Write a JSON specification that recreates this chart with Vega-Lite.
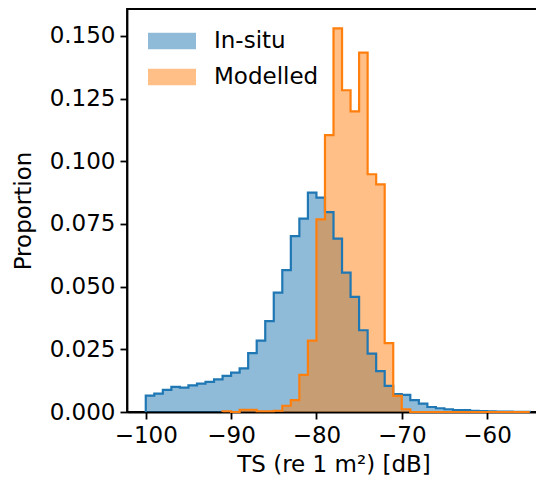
{
  "$schema": "https://vega.github.io/schema/vega-lite/v6.json",
  "autosize": {"type": "none"},
  "padding": {"left": 127, "top": 9, "right": 0, "bottom": 78},
  "width": 413,
  "height": 403,
  "config": {
    "font": "DejaVu Sans",
    "view": {"stroke": "black", "strokeWidth": 1.8},
    "axis": {
      "domainColor": "black", "domainWidth": 1.8, "tickColor": "black", "tickWidth": 1.8, "tickSize": 7,
      "labelColor": "black", "labelFontSize": 23, "labelPadding": 5, "titleColor": "black",
      "titleFontSize": 23, "titleFontWeight": "normal", "grid": false, "zindex": 1
    }
  },
  "data": {"values": [
    {"series": "In-situ", "kind": "start", "ts": -100, "p": 0},
    {"series": "In-situ", "kind": "bin", "ts": -100, "p": 0.0065},
    {"series": "In-situ", "kind": "bin", "ts": -99, "p": 0.0073},
    {"series": "In-situ", "kind": "bin", "ts": -98, "p": 0.0088},
    {"series": "In-situ", "kind": "bin", "ts": -97, "p": 0.0100},
    {"series": "In-situ", "kind": "bin", "ts": -96, "p": 0.0097},
    {"series": "In-situ", "kind": "bin", "ts": -95, "p": 0.0106},
    {"series": "In-situ", "kind": "bin", "ts": -94, "p": 0.0113},
    {"series": "In-situ", "kind": "bin", "ts": -93, "p": 0.0120},
    {"series": "In-situ", "kind": "bin", "ts": -92, "p": 0.0130},
    {"series": "In-situ", "kind": "bin", "ts": -91, "p": 0.0144},
    {"series": "In-situ", "kind": "bin", "ts": -90, "p": 0.0157},
    {"series": "In-situ", "kind": "bin", "ts": -89, "p": 0.0174},
    {"series": "In-situ", "kind": "bin", "ts": -88, "p": 0.0235},
    {"series": "In-situ", "kind": "bin", "ts": -87, "p": 0.0285},
    {"series": "In-situ", "kind": "bin", "ts": -86, "p": 0.0362},
    {"series": "In-situ", "kind": "bin", "ts": -85, "p": 0.0476},
    {"series": "In-situ", "kind": "bin", "ts": -84, "p": 0.0566},
    {"series": "In-situ", "kind": "bin", "ts": -83, "p": 0.0701},
    {"series": "In-situ", "kind": "bin", "ts": -82, "p": 0.0771},
    {"series": "In-situ", "kind": "bin", "ts": -81, "p": 0.0875},
    {"series": "In-situ", "kind": "bin", "ts": -80, "p": 0.0855},
    {"series": "In-situ", "kind": "bin", "ts": -79, "p": 0.0797},
    {"series": "In-situ", "kind": "bin", "ts": -78, "p": 0.0691},
    {"series": "In-situ", "kind": "bin", "ts": -77, "p": 0.0556},
    {"series": "In-situ", "kind": "bin", "ts": -76, "p": 0.0459},
    {"series": "In-situ", "kind": "bin", "ts": -75, "p": 0.0326},
    {"series": "In-situ", "kind": "bin", "ts": -74, "p": 0.0233},
    {"series": "In-situ", "kind": "bin", "ts": -73, "p": 0.0163},
    {"series": "In-situ", "kind": "bin", "ts": -72, "p": 0.0104},
    {"series": "In-situ", "kind": "bin", "ts": -71, "p": 0.0071},
    {"series": "In-situ", "kind": "bin", "ts": -70, "p": 0.0068},
    {"series": "In-situ", "kind": "bin", "ts": -69, "p": 0.0047},
    {"series": "In-situ", "kind": "bin", "ts": -68, "p": 0.0033},
    {"series": "In-situ", "kind": "bin", "ts": -67, "p": 0.0020},
    {"series": "In-situ", "kind": "bin", "ts": -66, "p": 0.0015},
    {"series": "In-situ", "kind": "bin", "ts": -65, "p": 0.0011},
    {"series": "In-situ", "kind": "bin", "ts": -64, "p": 0.0008},
    {"series": "In-situ", "kind": "bin", "ts": -63, "p": 0.0008},
    {"series": "In-situ", "kind": "bin", "ts": -62, "p": 0.0005},
    {"series": "In-situ", "kind": "bin", "ts": -61, "p": 0.0004},
    {"series": "In-situ", "kind": "bin", "ts": -60, "p": 0.0003},
    {"series": "In-situ", "kind": "bin", "ts": -59, "p": 0.0002},
    {"series": "In-situ", "kind": "bin", "ts": -58, "p": 0.0002},
    {"series": "In-situ", "kind": "bin", "ts": -57, "p": 0.0001},
    {"series": "In-situ", "kind": "bin", "ts": -56, "p": 0.0001},
    {"series": "In-situ", "kind": "end", "ts": -55, "p": 0},
    {"series": "Modelled", "kind": "start", "ts": -91, "p": 0},
    {"series": "Modelled", "kind": "bin", "ts": -91, "p": 0.0003},
    {"series": "Modelled", "kind": "bin", "ts": -90, "p": 0},
    {"series": "Modelled", "kind": "bin", "ts": -89, "p": 0.0009},
    {"series": "Modelled", "kind": "bin", "ts": -88, "p": 0.0009},
    {"series": "Modelled", "kind": "bin", "ts": -87, "p": 0.0003},
    {"series": "Modelled", "kind": "bin", "ts": -86, "p": 0.0003},
    {"series": "Modelled", "kind": "bin", "ts": -85, "p": 0.0005},
    {"series": "Modelled", "kind": "bin", "ts": -84, "p": 0.0025},
    {"series": "Modelled", "kind": "bin", "ts": -83, "p": 0.0047},
    {"series": "Modelled", "kind": "bin", "ts": -82, "p": 0.0148},
    {"series": "Modelled", "kind": "bin", "ts": -81, "p": 0.0285},
    {"series": "Modelled", "kind": "bin", "ts": -80, "p": 0.0768},
    {"series": "Modelled", "kind": "bin", "ts": -79, "p": 0.1104},
    {"series": "Modelled", "kind": "bin", "ts": -78, "p": 0.1530},
    {"series": "Modelled", "kind": "bin", "ts": -77, "p": 0.1283},
    {"series": "Modelled", "kind": "bin", "ts": -76, "p": 0.1199},
    {"series": "Modelled", "kind": "bin", "ts": -75, "p": 0.1433},
    {"series": "Modelled", "kind": "bin", "ts": -74, "p": 0.0948},
    {"series": "Modelled", "kind": "bin", "ts": -73, "p": 0.0908},
    {"series": "Modelled", "kind": "bin", "ts": -72, "p": 0.0275},
    {"series": "Modelled", "kind": "bin", "ts": -71, "p": 0.0064},
    {"series": "Modelled", "kind": "bin", "ts": -70, "p": 0.0011},
    {"series": "Modelled", "kind": "bin", "ts": -69, "p": 0},
    {"series": "Modelled", "kind": "bin", "ts": -68, "p": 0},
    {"series": "Modelled", "kind": "bin", "ts": -67, "p": 0},
    {"series": "Modelled", "kind": "bin", "ts": -66, "p": 0},
    {"series": "Modelled", "kind": "bin", "ts": -65, "p": 0},
    {"series": "Modelled", "kind": "bin", "ts": -64, "p": 0},
    {"series": "Modelled", "kind": "bin", "ts": -63, "p": 0},
    {"series": "Modelled", "kind": "bin", "ts": -62, "p": 0},
    {"series": "Modelled", "kind": "bin", "ts": -61, "p": 0},
    {"series": "Modelled", "kind": "bin", "ts": -60, "p": 0},
    {"series": "Modelled", "kind": "bin", "ts": -59, "p": 0},
    {"series": "Modelled", "kind": "bin", "ts": -58, "p": 0},
    {"series": "Modelled", "kind": "bin", "ts": -57, "p": 0},
    {"series": "Modelled", "kind": "bin", "ts": -56, "p": 0},
    {"series": "Modelled", "kind": "end", "ts": -55, "p": 0}
  ]},
  "encoding": {
    "x": {
      "field": "ts", "type": "quantitative",
      "scale": {"domain": [-102.2, -53.8], "nice": false, "zero": false},
      "axis": {"values": [-100, -90, -80, -70, -60], "format": "d", "title": "TS (re 1 m²) [dB]", "titlePadding": 6}
    },
    "y": {
      "field": "p", "type": "quantitative", "stack": null,
      "scale": {"domain": [0, 0.1607], "nice": false, "zero": true},
      "axis": {"values": [0, 0.025, 0.05, 0.075, 0.1, 0.125, 0.15], "format": ".3f", "title": "Proportion", "titlePadding": 14}
    }
  },
  "layer": [
    {
      "transform": [{"filter": "datum.kind != 'start'"}],
      "mark": {"type": "area", "interpolate": "step-after", "opacity": 0.5},
      "encoding": {
        "color": {
          "field": "series", "type": "nominal",
          "scale": {"domain": ["In-situ", "Modelled"], "range": ["#1f77b4", "#ff7f0e"]},
          "legend": {
            "title": null, "orient": "none", "legendX": 21, "legendY": 8, "padding": 0,
            "symbolType": "M-1,-0.34H1V0.34H-1Z", "symbolSize": 2304, "symbolOpacity": 0.5,
            "symbolStrokeWidth": 0, "labelFontSize": 23, "labelColor": "black", "labelOffset": 18,
            "rowPadding": -3
          }
        }
      }
    },
    {
      "mark": {"type": "line", "interpolate": "step-after", "strokeWidth": 2.2},
      "encoding": {
        "order": {"value": null},
        "color": {"field": "series", "type": "nominal", "legend": null}
      }
    }
  ]
}
